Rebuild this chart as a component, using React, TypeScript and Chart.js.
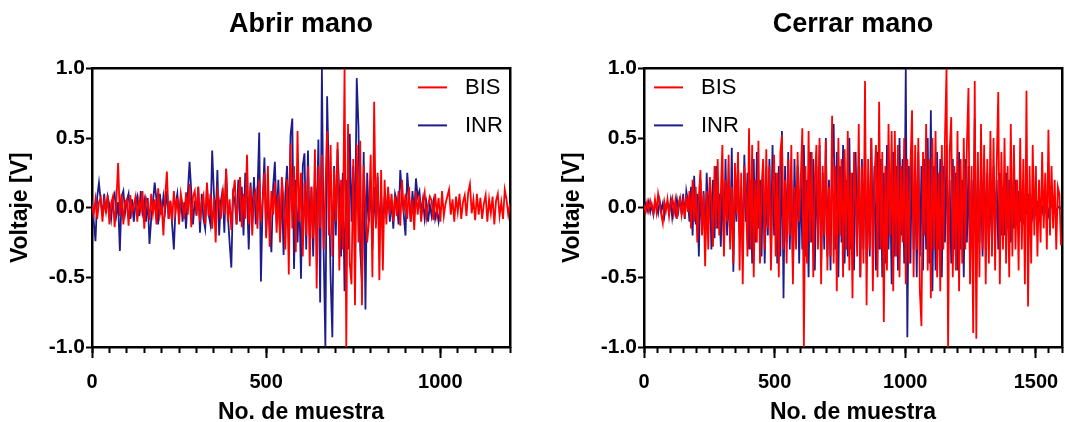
import { useEffect, useRef } from 'react';
import { Chart, registerables } from 'chart.js';

Chart.register(...registerables);

// Sample spacing (in samples) of the stored traces
const OPEN_STEP = 5;
const CLOSE_STEP = 6;

const SERIES_LABELS = ['BIS', 'INR'];
const SERIES_COLORS = ['#ff0000', '#1c1c8c'];

const Y_TICKS = [-1, -0.5, 0, 0.5, 1];
const OPEN_X_TICKS = [0, 500, 1000];
const CLOSE_X_TICKS = [0, 500, 1000, 1500];
const OPEN_X_MAX = 1200;
const CLOSE_X_MAX = 1600;
const MINOR_X_STEP = 50;

// "Abrir mano" – BIS electrode, every 5th sample
const openBIS = [
  0.02, -0.05, 0.06, -0.08, 0.04, 0.07, -0.1, 0.05, -0.03, 0.09, -0.12, 0.03, 0.08, -0.14, 0.05,
  0.32, -0.06, 0.1, -0.12, 0.04, 0.06, -0.13, 0.09, -0.04, 0.02,
  0.08, -0.1, 0.05, -0.02, 0.12, -0.15, 0.07, 0.03, -0.09, 0.1,
  -0.04, 0.06, -0.12, 0.14, -0.05, 0.02, -0.2, 0.08, 0.26, -0.08,
  0.05, -0.1, 0.12, -0.03, 0.07, -0.12, 0.1, 0.02, -0.08, 0.11,
  -0.05, 0.17, -0.14, 0.08, 0.12, -0.06, 0.15, -0.1, 0.04, 0.09,
  -0.12, 0.18, -0.06, 0.1, -0.15, 0.07, -0.25, 0.12, 0.05, -0.08,
  0.14, -0.05, 0.28, -0.1, 0.06, -0.16, 0.1, 0.2, -0.12, 0.05,
  0.22, -0.14, 0.1, -0.08, 0.38, -0.12, 0.15, -0.2, 0.08, 0.12,
  -0.15, 0.2, -0.1, 0.05, 0.25, -0.22, 0.3, -0.28, 0.12, -0.05,
  0.18, -0.18, 0.1, -0.25, 0.22, 0.05, -0.3, 0.2, -0.48, 0.46,
  -0.15, 0.3, -0.32, 0.55, -0.1, 0.25, -0.35, 0.18, -0.2, 0.3,
  -0.42, 0.15, -0.22, 0.42, -0.58, 0.3, -0.15, 0.38, -0.3, 0.12,
  0.55, -0.2, 0.45, -0.35, 0.28, -0.1, 0.47, -0.45, 0.2, -0.3,
  1.0, -1.0, 0.6, -0.4, -0.55, 0.35, -0.7, 0.45, -0.25, 0.48,
  -0.7, 0.3, 0.02, -0.25, -0.1, 0.38, -0.5, 0.76, -0.15, 0.25,
  -0.52, 0.27, -0.45, 0.2, -0.12, 0.15, -0.05, 0.1, -0.1, 0.08,
  -0.06, 0.12, -0.13, 0.2, -0.04, 0.1, -0.08, 0.15, -0.1, 0.06,
  -0.16, 0.12, -0.05, 0.09, -0.1, 0.04, 0.11, -0.07, 0.02, 0.08,
  0.05, -0.09, 0.1, -0.04, 0.07, -0.1, 0.12, -0.06, 0.03, 0.08,
  0.13, -0.05, 0.06, -0.1, 0.08, -0.03, 0.1, -0.08, 0.04, 0.09,
  -0.06, 0.11, 0.17, -0.04, 0.06, -0.09, 0.1, -0.05, 0.07, -0.08,
  0.03, 0.09, -0.1, 0.06, -0.04, 0.08, -0.12, 0.05, 0.1, -0.06,
  0.04, -0.08, 0.13, 0.06, -0.05, 0.03,
];

// "Abrir mano" – INR electrode, every 5th sample (recording stops at 1000)
const openINR = [
  0.05, -0.1, -0.24, 0.08, 0.18, 0.05, -0.06, 0.1, -0.04, 0.08, 0.02, -0.08, 0.06, 0.1, -0.05,
  0.04, -0.31, 0.08, 0.12, -0.04, 0.05, 0.1, -0.08, 0.06, -0.1,
  0.03, 0.08, -0.06, 0.12, -0.03, 0.05, -0.1, 0.07, -0.26, -0.08,
  0.04, 0.18, 0.06, -0.12, 0.1, -0.05, 0.08, -0.02, 0.12, -0.08,
  0.05, -0.12, -0.3, 0.02, 0.1, -0.06, 0.08, -0.1, 0.04, -0.15,
  0.1, 0.33, 0.12, -0.12, 0.05, -0.05, 0.15, -0.18, 0.1, -0.08,
  -0.15, 0.16, -0.05, -0.12, 0.41, 0.1, -0.08, 0.27, -0.2, 0.05,
  0.12, -0.18, 0.28, -0.05, -0.25, -0.43, 0.1, 0.05, -0.12, 0.2,
  -0.1, 0.15, -0.2, 0.25, 0.08, -0.3, 0.18, -0.08, 0.22, -0.12,
  0.1, 0.54, -0.53, 0.05, 0.36, -0.2, 0.1, -0.15, -0.32, 0.15,
  0.33, -0.1, 0.2, -0.2, 0.15, -0.34, 0.1, 0.3, -0.15, 0.52,
  0.64, -0.44, 0.2, -0.25, 0.1, -0.51, 0.3, 0.39, -0.3, 0.41,
  -0.2, 0.15, -0.35, 0.2, -0.1, 0.49, -0.68, 1.0, -0.3, -1.0,
  0.8, 0.2, -0.5, -0.93, 0.3, -0.2, 0.42, 0.1, -0.35, 0.25,
  -0.6, 0.2, -0.3, 0.53, -0.1, 0.3, -0.2, 0.93, 0.58, -0.3,
  -0.55, 0.4, -0.73, 0.25, -0.1, 0.2, -0.3, 0.15, -0.12, 0.22,
  -0.2, 0.1, -0.15, 0.08, -0.05, 0.12, -0.1, 0.05, -0.15, 0.1,
  0.05, -0.12, 0.27, 0.1, -0.05, -0.2, 0.25, 0.08, -0.1, 0.12,
  -0.05, 0.21, 0.08, 0.12, -0.04, 0.06, -0.08, 0.03, -0.1, 0.02,
  -0.06, 0.04, -0.08, -0.02, -0.1, 0.0,
];

// "Cerrar mano" – BIS electrode, every 6th sample
const closeBIS = [
  0.02, -0.03, 0.04, -0.02, 0.05, 0.01, -0.04, 0.06, -0.03, 0.1,
  0.03, -0.05, -0.11, 0.04, -0.02, 0.06, -0.06, 0.03, 0.07, -0.04,
  0.05, -0.08, 0.02, 0.07, -0.05, 0.04, -0.07, 0.09, -0.03, 0.12,
  -0.15, 0.2, -0.1, 0.15, -0.25, 0.08, 0.27, -0.2, 0.1, -0.42,
  0.12, -0.3, 0.22, 0.05, -0.28, 0.3, -0.15, 0.35, -0.2, 0.1,
  0.45, -0.35, 0.2, -0.1, 0.38, -0.3, 0.15, -0.4, 0.32, -0.05,
  0.4, -0.45, 0.25, -0.55, 0.3, 0.1, -0.35, 0.57, -0.3, 0.45,
  -0.5, 0.2, -0.25, 0.48, -0.4, 0.15, 0.35, -0.3, 0.42, -0.15,
  0.3, -0.45, 0.1, 0.38, -0.35, 0.25, -0.5, 0.4, 0.52, -0.3,
  0.2, -0.4, 0.35, -0.2, 0.45, -0.55, 0.15, -0.3, 0.4, -0.1,
  0.2, 0.57, -1.0, 0.3, -0.4, 0.55, -0.25, 0.4, -0.5, 0.2,
  0.45, -0.3, 0.5, -0.55, 0.3, -0.2, 0.48, -0.45, 0.15, -0.35,
  0.66, -0.4, 0.3, -0.6, 0.5, -0.2, 0.35, -0.5, 0.42, -0.3,
  0.55, -0.45, 0.25, -0.65, 0.4, 0.1, -0.35, 0.6, -0.5, 0.3,
  -0.4, 0.91, -0.7, 0.35, -0.3, 0.5, -0.6, 0.2, 0.45, -0.5,
  0.76, -0.3, 0.4, -0.82, 0.3, -0.45, 0.6, -0.2, 0.55, -0.6,
  0.55, -0.35, 0.45, -0.5, 0.3, -0.25, 0.5, -0.55, 0.35, -0.4,
  0.3, 0.7, -0.5, 0.45, -0.3, 0.5, -0.6, -0.85, 0.4, -0.2,
  0.6, -0.45, 0.35, -0.65, 0.5, -0.3, 0.55, -0.5, 0.25, -0.6,
  0.45, -0.3, 0.5, 1.0, -1.0, 0.4, 0.65, -0.5, 0.3, -0.45,
  0.55, -0.6, 0.35, -0.4, 0.5, -0.3, 0.45, 0.86, -0.55, 0.3,
  -0.9, 0.91, -0.94, 0.4, -0.5, 0.6, -0.3, 0.45, -0.55, 0.35,
  -0.4, 0.55, -0.35, 0.5, -0.45, 0.3, 0.83, -0.55, 0.4, -0.3,
  0.5, -0.4, 0.3, -0.5, 0.6, -0.35, 0.45, -0.3, 0.2, -0.45,
  0.5, -0.3, 0.35, -0.55, 0.84, -0.71, 0.3, -0.4, 0.45, -0.2,
  0.3, -0.35, 0.2, -0.25, 0.4, -0.15, 0.25, -0.3, 0.56, -0.2,
  0.3, -0.15, 0.2, -0.3, 0.15, 0.1, -0.27,
];

// "Cerrar mano" – INR electrode, every 6th sample
const closeINR = [
  0.01, 0.03, -0.02, 0.04, -0.03, 0.02, -0.05, 0.03, 0.01, -0.04,
  0.05, -0.02, 0.03, -0.06, 0.02, 0.04, -0.03, 0.05, -0.07, 0.02,
  -0.04, 0.06, -0.02, 0.08, -0.05, 0.1, -0.08, 0.12, 0.05, -0.1,
  0.15, -0.2, 0.23, -0.12, 0.1, -0.35, 0.2, -0.15, 0.12, -0.25,
  0.25, -0.1, 0.18, -0.3, 0.2, -0.22, 0.3, -0.15, 0.1, -0.28,
  0.2, -0.3, 0.35, -0.2, 0.15, -0.25, 0.43, -0.46, 0.2, -0.1,
  0.3, -0.2, 0.15, -0.35, 0.38, -0.1, 0.25, -0.3, 0.2, -0.4,
  0.35, -0.25, 0.4, -0.15, 0.2, -0.35, 0.3, -0.4, 0.15, -0.2,
  0.35, -0.3, 0.45, -0.2, 0.25, -0.4, 0.3, -0.35, 0.55, -0.65,
  0.3, -0.25, 0.4, -0.3, 0.2, -0.45, 0.35, -0.2, 0.3, -0.4,
  0.25, -0.3, 0.45, -0.35, 0.2, -0.5, 0.4, -0.25, 0.35, -0.45,
  0.3, -0.2, 0.45, -0.4, 0.25, -0.3, 0.5, -0.35, 0.2, -0.45,
  0.35, 0.6, -0.3, 0.4, -0.5, 0.3, -0.25, 0.45, -0.4, 0.2,
  -0.35, 0.5, -0.3, 0.25, -0.45, 0.4, -0.2, 0.3, -0.5, 0.35,
  -0.3, 0.45, -0.4, 0.2, -0.35, 0.5, -0.25, 0.3, -0.45, 0.4,
  -0.3, 0.35, -0.5, 0.25, -0.4, 0.45, -0.3, 0.2, -0.55, 0.4,
  -0.35, 0.3, -0.45, 0.5, -0.2, 0.35, -0.4, 1.0, -0.93, 0.3,
  -0.4, 0.45, -0.3, 0.25, -0.5, 0.4, -0.35, 0.3, -0.45, 0.35,
  -0.3, 0.5, -0.4, 0.7, -0.6, 0.3, -0.45, 0.4, -0.3, 0.35,
  -0.5, 0.3, -0.25, 0.45, -0.35, 0.2, -0.4, 0.35, -0.3, 0.25,
  -0.45, 0.4, -0.3, 0.2, -0.5, 0.35, -0.25, 0.3, -0.4, 0.2,
  -0.35, 0.64, -0.5, 0.3, -0.25, 0.2, -0.35, 0.3, -0.2, 0.25,
  -0.3, 0.2, -0.25, 0.3, -0.15, 0.2, -0.3, 0.25, -0.2, 0.15,
  -0.2, 0.25, -0.15, 0.2, -0.25, 0.1, -0.15, 0.2, -0.1, 0.12,
  -0.1, 0.08, -0.12, 0.06, -0.05, 0.1, -0.08, 0.04, -0.06, 0.03,
  -0.04, 0.05, -0.1, 0.02, -0.03, 0.04, -0.02, 0.03, -0.05, 0.01,
  0.02, -0.02, 0.01, -0.03, 0.0, 0.01, -0.01,
];

const FONT_FAMILY = '"Liberation Sans", Arial, Helvetica, sans-serif';
const CANVAS_HEIGHT = 426;

const toPoints = (values: number[], step: number) =>
  values.map((y, i) => ({ x: i * step, y }));

// Legend drawn inside the plot area: short line sample + series name, stacked
const panelLegend = {
  id: 'panelLegend',
  afterDatasetsDraw(chart: any, _args: any, opts: any) {
    const { ctx, chartArea } = chart;
    const lineLen = 29;
    const x0 = opts.side === 'right' ? chartArea.right - 92 : chartArea.left + 10;
    ctx.save();
    chart.data.datasets.forEach((ds: any, i: number) => {
      const y = chartArea.top + 19 + i * 38;
      ctx.strokeStyle = ds.borderColor;
      ctx.lineWidth = 2;
      ctx.beginPath();
      ctx.moveTo(x0, y);
      ctx.lineTo(x0 + lineLen, y);
      ctx.stroke();
      ctx.fillStyle = '#000';
      ctx.font = `22px ${FONT_FAMILY}`;
      ctx.textAlign = 'left';
      ctx.textBaseline = 'middle';
      ctx.fillText(ds.label, x0 + 47, y + 1);
    });
    ctx.restore();
  },
};

type PanelProps = {
  title: string;
  bis: number[];
  inr: number[];
  step: number;
  xMax: number;
  xTicks: number[];
  left: number;
  width: number;
  yAxisWidth: number;
  yTitleOffset: number;
  rightPad: number;
  legendSide: 'left' | 'right';
};

function Panel(p: PanelProps) {
  const ref = useRef<HTMLCanvasElement>(null);

  useEffect(() => {
    if (!ref.current) return;
    const xTickFont = { family: FONT_FAMILY, size: 20, weight: 'bold' as const };
    const yTickFont = { family: FONT_FAMILY, size: 21, weight: 'bold' as const };
    const axisTitleFont = { family: FONT_FAMILY, size: 23, weight: 'bold' as const };
    const black = '#000';

    const chart = new Chart(ref.current, {
      type: 'line',
      data: {
        datasets: [
          {
            label: SERIES_LABELS[0],
            data: toPoints(p.bis, p.step),
            borderColor: SERIES_COLORS[0],
            borderWidth: 1.8,
            pointRadius: 0,
            tension: 0,
          },
          {
            label: SERIES_LABELS[1],
            data: toPoints(p.inr, p.step),
            borderColor: SERIES_COLORS[1],
            borderWidth: 1.8,
            pointRadius: 0,
            tension: 0,
          },
        ],
      },
      options: {
        animation: false,
        responsive: false,
        devicePixelRatio: 1,
        layout: { padding: { left: 0, right: p.rightPad, top: 0, bottom: 0 } },
        plugins: {
          legend: { display: false },
          tooltip: { enabled: false },
          title: {
            display: true,
            text: p.title,
            fullSize: false,
            color: black,
            font: { family: FONT_FAMILY, size: 27, weight: 'bold' },
            padding: { top: 8, bottom: 28 },
          },
          panelLegend: { side: p.legendSide },
        } as any,
        scales: {
          x: {
            type: 'linear',
            position: 'bottom',
            weight: 1,
            min: 0,
            max: p.xMax,
            afterBuildTicks: (s: any) => {
              s.ticks = p.xTicks.map((v) => ({ value: v }));
            },
            ticks: {
              autoSkip: false,
              maxRotation: 0,
              padding: 12,
              color: black,
              font: xTickFont,
              callback: (v: any) => String(v),
            },
            grid: {
              drawOnChartArea: false,
              drawTicks: true,
              tickLength: 11,
              tickWidth: 2,
              tickColor: black,
            },
            border: { display: true, color: black, width: 2.5 },
            title: {
              display: true,
              text: 'No. de muestra',
              color: black,
              font: axisTitleFont,
              padding: { top: 0, bottom: 0 },
            },
            afterFit: (s: any) => {
              s.height = CANVAS_HEIGHT - 347;
              s.paddingLeft = 0;
              s.paddingRight = 0;
            },
          },
          xMinor: {
            type: 'linear',
            position: 'bottom',
            weight: 0,
            min: 0,
            max: p.xMax,
            ticks: { stepSize: MINOR_X_STEP, display: false, autoSkip: false },
            grid: {
              drawOnChartArea: false,
              drawTicks: true,
              tickLength: 6,
              tickWidth: 2,
              tickColor: black,
            },
            border: { display: false },
            afterFit: (s: any) => {
              s.height = 0;
              s.paddingLeft = 0;
              s.paddingRight = 0;
            },
          },
          xTop: {
            type: 'linear',
            position: 'top',
            min: 0,
            max: p.xMax,
            ticks: { display: false },
            grid: { display: false, drawTicks: false },
            border: { display: true, color: black, width: 2.5 },
            afterFit: (s: any) => {
              s.height = 0;
              s.paddingLeft = 0;
              s.paddingRight = 0;
            },
          },
          y: {
            type: 'linear',
            position: 'left',
            min: -1,
            max: 1,
            afterBuildTicks: (s: any) => {
              s.ticks = Y_TICKS.map((v) => ({ value: v }));
            },
            ticks: {
              padding: 1,
              color: black,
              font: yTickFont,
              callback: (v: any) => Number(v).toFixed(1),
            },
            grid: {
              drawOnChartArea: false,
              drawTicks: true,
              tickLength: 6,
              tickWidth: 2,
              tickColor: black,
            },
            border: { display: true, color: black, width: 2.5 },
            title: {
              display: true,
              text: 'Voltaje [V]',
              color: black,
              font: axisTitleFont,
              padding: { top: p.yTitleOffset, bottom: 0 },
            },
            afterFit: (s: any) => {
              s.width = p.yAxisWidth;
            },
          },
          yRight: {
            type: 'linear',
            position: 'right',
            min: -1,
            max: 1,
            ticks: { display: false },
            grid: { display: false, drawTicks: false },
            border: { display: true, color: black, width: 2.5 },
            afterFit: (s: any) => {
              s.width = 0;
            },
          },
        },
      } as any,
      plugins: [panelLegend],
    });

    return () => chart.destroy();
  }, []);

  return (
    <canvas
      ref={ref}
      width={p.width}
      height={CANVAS_HEIGHT}
      style={{ position: 'absolute', left: p.left, top: 0, width: p.width, height: CANVAS_HEIGHT }}
    />
  );
}

export default function App() {
  return (
    <div
      style={{
        position: 'fixed',
        left: 0,
        top: 0,
        width: 1065,
        height: 422,
        overflow: 'hidden',
        background: '#fff',
      }}
    >
      <Panel
        title="Abrir mano"
        bis={openBIS}
        inr={openINR}
        step={OPEN_STEP}
        xMax={OPEN_X_MAX}
        xTicks={OPEN_X_TICKS}
        left={0}
        width={532}
        yAxisWidth={92}
        yTitleOffset={7}
        rightPad={22}
        legendSide="right"
      />
      <Panel
        title="Cerrar mano"
        bis={closeBIS}
        inr={closeINR}
        step={CLOSE_STEP}
        xMax={CLOSE_X_MAX}
        xTicks={CLOSE_X_TICKS}
        left={532}
        width={533}
        yAxisWidth={112}
        yTitleOffset={27}
        rightPad={3}
        legendSide="left"
      />
    </div>
  );
}
